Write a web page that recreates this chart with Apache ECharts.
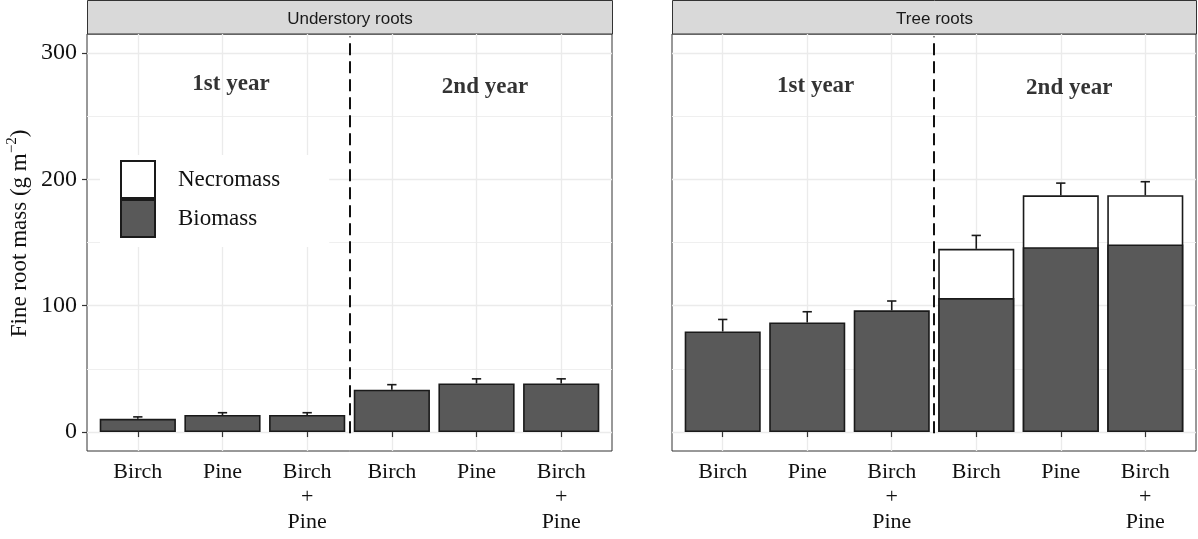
<!DOCTYPE html>
<html>
<head>
<meta charset="utf-8">
<script src="https://cdn.jsdelivr.net/npm/echarts@6/dist/echarts.min.js"></script>
<style>html,body{margin:0;padding:0;background:#fff;}#c{width:1198px;height:539px;}</style>
</head>
<body>
<div id="c"></div>
<script>
// ---- data ----
const categories = ['Birch', 'Pine', 'Birch\n+\nPine', 'Birch', 'Pine', 'Birch\n+\nPine'];
const catPos = [1, 2, 3, 4, 5, 6];
const panelTitles = ['Understory roots', 'Tree roots'];
const underBiomass = [10.5, 13.5, 13.5, 33.5, 38.5, 38.5];
const underNecromass = [null, null, null, null, null, null];
const underSE = [1.5, 1.8, 1.8, 4.0, 3.6, 3.6];
const treeBiomass = [79.6, 86.7, 96.3, 106, 146.3, 148.4];
const treeNecromass = [null, null, null, 39, 41, 39];
const treeSE = [9.5, 8.5, 7.4, 10.6, 9.7, 10.7];
const yTicks = [0, 100, 200, 300];
const yMinorTicks = [50, 150, 250];
const yearLabels = ['1st year', '2nd year'];
const yearLabelX = [2.1, 5.1];
const underYearLabelY = [275, 273];
const treeYearLabelY = [274, 272];
const yearDivider = 3.5;

const SERIF = 'Liberation Serif';

function pairs(vals) { return catPos.map((x, i) => [x, vals[i]]); }
// necromass bar is drawn from 0 to the stacked total, biomass drawn over it
function totals(bio, nec) { return catPos.map((x, i) => [x, nec[i] == null ? null : bio[i] + nec[i]]); }
function errData(bio, nec, se) {
  return catPos.map((x, i) => [x, bio[i] + (nec[i] || 0), se[i]]);
}
function errRender(params, api) {
  const x = api.value(0), top = api.value(1), se = api.value(2);
  const p0 = api.coord([x, top]);
  const p1 = api.coord([x, top + se]);
  const half = api.size([0.055, 0])[0];
  const st = { stroke: '#1a1a1a', lineWidth: 1.6 };
  return { type: 'group', children: [
    { type: 'line', shape: { x1: p0[0], y1: p0[1], x2: p1[0], y2: p1[1] }, style: st },
    { type: 'line', shape: { x1: p1[0] - half, y1: p1[1], x2: p1[0] + half, y2: p1[1] }, style: st }
  ]};
}

const grids = [
  { left: 87, right: 586, top: 34, bottom: 88, show: true, borderColor: '#333', borderWidth: 1, backgroundColor: '#fff' },
  { left: 672, right: 2, top: 34, bottom: 88, show: true, borderColor: '#333', borderWidth: 1, backgroundColor: '#fff' }
];

function makeX(gi) {
  return {
    type: 'value', gridIndex: gi, min: 0.4, max: 6.6,
    axisLine: { show: false },
    axisTick: { show: true, customValues: catPos, length: 5, lineStyle: { color: '#333', width: 1.2 } },
    axisLabel: { customValues: catPos, formatter: v => categories[Math.round(v) - 1] || '',
      fontFamily: SERIF, fontSize: 22, color: '#111', lineHeight: 25, margin: 9 },
    splitLine: { show: true, lineStyle: { color: '#ebebeb', width: 1.3 } }
  };
}
function makeY(gi, showLabels) {
  const ax = {
    type: 'value', gridIndex: gi, min: -15, max: 315, position: 'left',
    axisLine: { show: false },
    axisTick: { show: showLabels, customValues: yTicks, length: 5, lineStyle: { color: '#333', width: 1.2 } },
    axisLabel: { show: showLabels, customValues: yTicks, fontFamily: SERIF, fontSize: 24, color: '#111', margin: 10 },
    splitLine: { show: true, lineStyle: { color: '#ebebeb', width: 1.3 } }
  };
  if (showLabels) {
    ax.name = '{a|Fine root mass (g m}{b|\u22122}{a|)}';
    ax.nameLocation = 'middle';
    ax.nameRotate = 90;
    ax.nameGap = 52;
    ax.nameTextStyle = {
      padding: [0, 0, 0, 18],
      rich: {
        a: { fontFamily: SERIF, fontSize: 23, color: '#111', lineHeight: 30 },
        b: { fontFamily: SERIF, fontSize: 15, color: '#111', verticalAlign: 'top', lineHeight: 16 }
      }
    };
  }
  return ax;
}
function makeYMinor(gi) {
  return {
    type: 'value', gridIndex: gi, min: -15, max: 315, position: 'right',
    axisLine: { show: false },
    axisTick: { show: false, customValues: yMinorTicks },
    axisLabel: { show: false, customValues: yMinorTicks },
    splitLine: { show: true, lineStyle: { color: '#efefef', width: 1 } }
  };
}

const bioStyle = { color: '#595959', borderColor: '#1a1a1a', borderWidth: 1.6 };
const necStyle = { color: '#ffffff', borderColor: '#1a1a1a', borderWidth: 1.6 };

function panelSeries(gi, bio, nec, se, labelY) {
  const xi = gi, yi = gi * 2;
  return [
    { name: 'Necromass', type: 'bar', xAxisIndex: xi, yAxisIndex: yi,
      barWidth: '90%', barGap: '-100%', data: totals(bio, nec), itemStyle: necStyle, z: 3 },
    { name: 'Biomass', type: 'bar', xAxisIndex: xi, yAxisIndex: yi,
      barWidth: '90%', barGap: '-100%', data: pairs(bio), itemStyle: bioStyle, z: 4,
      markLine: { silent: true, symbol: 'none', label: { show: false },
        lineStyle: { type: [12, 6], color: '#111', width: 2 },
        data: [[{ coord: [yearDivider, -1] }, { coord: [yearDivider, 313] }]] } },
    { type: 'custom', xAxisIndex: xi, yAxisIndex: yi, renderItem: errRender,
      data: errData(bio, nec, se), z: 2, silent: true },
    { type: 'scatter', xAxisIndex: xi, yAxisIndex: yi, symbolSize: 0, silent: true, z: 5,
      data: yearLabels.map((t, i) => ({ value: [yearLabelX[i], labelY[i]], name: t })),
      label: { show: true, position: 'inside', formatter: p => p.name,
        fontFamily: SERIF, fontWeight: 'bold', fontSize: 23, color: '#000' } }
  ];
}

const chart = echarts.init(document.getElementById('c'), null, { renderer: 'canvas' });
chart.setOption({
  animation: false,
  backgroundColor: '#fff',
  grid: grids,
  xAxis: [makeX(0), makeX(1)],
  yAxis: [makeY(0, true), makeYMinor(0), makeY(1, false), makeYMinor(1)],
  legend: {
    data: ['Necromass', 'Biomass'],
    orient: 'vertical', left: 100, top: 155,
    itemWidth: 34, itemHeight: 37, itemGap: 0,
    backgroundColor: '#fff',
    padding: [5, 49, 9, 20],
    textStyle: { fontFamily: SERIF, fontSize: 23, color: '#111', padding: [0, 0, 0, 18] },
    icon: 'rect'
  },
  graphic: panelTitles.map((t, i) => ({
    type: 'group', left: grids[i].left, top: 0,
    children: [
      { type: 'rect', shape: { x: 0, y: 0.5, width: i === 0 ? 525 : 524, height: 33.5 },
        style: { fill: '#d9d9d9', stroke: '#333', lineWidth: 1 } },
      { type: 'text', x: (i === 0 ? 525 : 524) / 2, y: 19,
        style: { text: t, fill: '#1a1a1a', font: '17px "Liberation Sans"', align: 'center', verticalAlign: 'middle' } }
    ]
  })),
  series: [
    ...panelSeries(0, underBiomass, underNecromass, underSE, underYearLabelY),
    ...panelSeries(1, treeBiomass, treeNecromass, treeSE, treeYearLabelY)
  ]
});
</script>
</body>
</html>
